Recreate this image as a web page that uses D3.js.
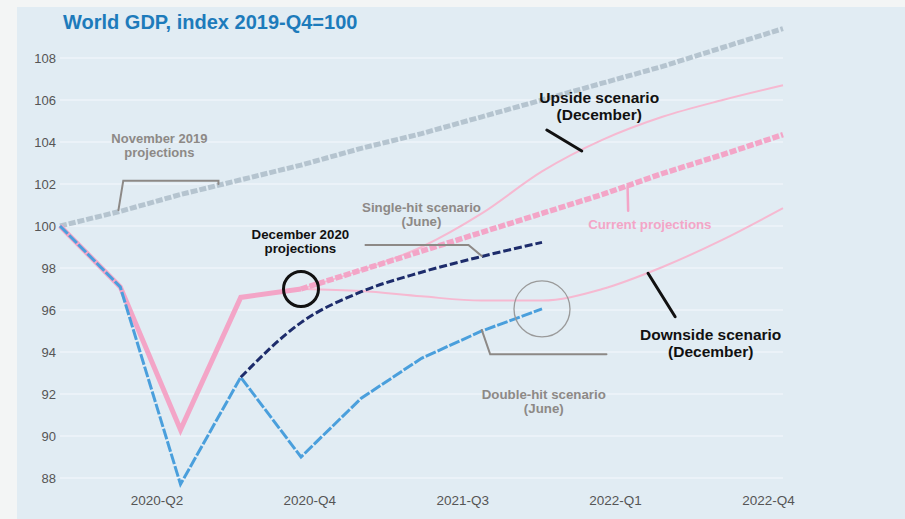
<!DOCTYPE html>
<html>
<head>
<meta charset="utf-8">
<script src="https://cdn.jsdelivr.net/npm/d3@7"></script>
<style>
  html, body { margin: 0; padding: 0; background: #f3f5f5; }
  svg { display: block; }
  text { font-family: "Liberation Sans", Arial, sans-serif; }
</style>
</head>
<body>
<svg id="chart" width="905" height="519"></svg>
<script>
// Quarters from 2019-Q4 (index 0) to 2022-Q4 (index 12)
const quarters = ["2019-Q4","2020-Q1","2020-Q2","2020-Q3","2020-Q4",
                  "2021-Q1","2021-Q2","2021-Q3","2021-Q4",
                  "2022-Q1","2022-Q2","2022-Q3","2022-Q4"];

// World GDP index, 2019-Q4 = 100
const november2019   = [100, 100.7, 101.5, 102.2, 102.9, 103.7, 104.4, 105.2, 106.0, 106.8, 107.6, 108.5, 109.4];
const currentActual  = [100, 97.1, 90.3, 96.6, 97.0];
const currentProj    = [null, null, null, null, 97.0, 97.9, 98.8, 99.7, 100.6, 101.5, 102.5, 103.4, 104.35];
const upsideDec      = [null, null, null, null, 97.0, 97.9, 99.0, 100.6, 102.6, 104.1, 105.2, 106.0, 106.7];
const downsideDec    = [null, null, null, null, 97.0, 96.9, 96.65, 96.45, 96.45, 97.0, 98.05, 99.35, 100.85];
const singleHitJune  = [null, null, null, 92.8, 95.4, 96.87, 97.8, 98.55, 99.22];
const doubleHitJune  = [100, 97.1, 87.7, 92.8, 89.0, 91.8, 93.7, 95.0, 96.05];

const yTicks = [88, 90, 92, 94, 96, 98, 100, 102, 104, 106, 108];
const xTickLabels = ["2020-Q2", "2020-Q4", "2021-Q3", "2022-Q1", "2022-Q4"];

const svg = d3.select("#chart");
const W = 905, H = 519;

// panel
svg.append("rect").attr("x", 17).attr("y", 7).attr("width", W - 17).attr("height", H - 7)
  .attr("fill", "#e1ecf3");

const x = d3.scaleLinear().domain([0, quarters.length - 1]).range([60, 783]);
const y = d3.scaleLinear().domain([88, 108]).range([478, 58]);

// title
svg.append("text").attr("x", 63).attr("y", 29)
  .attr("font-size", 20).attr("font-weight", "bold").attr("fill", "#1d7bbb")
  .text("World GDP, index 2019-Q4=100");

// gridlines
svg.append("g").selectAll("line").data(yTicks).join("line")
  .attr("x1", x(0)).attr("x2", x(12))
  .attr("y1", d => y(d)).attr("y2", d => y(d))
  .attr("stroke", "#ebf2f8").attr("stroke-width", 2);

// y axis labels
const yAxis = d3.axisLeft(y).tickValues(yTicks).tickSize(0).tickPadding(0).tickFormat(d3.format("d"));
svg.append("g").attr("transform", "translate(56,0)").call(yAxis)
  .call(g => g.select(".domain").remove())
  .call(g => g.selectAll("text").attr("font-size", 13).attr("fill", "#555")
    .attr("font-family", "'Liberation Sans', Arial, sans-serif"));

// x axis labels
const xLab = d3.scalePoint().domain(xTickLabels).range([x(1.6), x(11.75)]);
const xAxis = d3.axisBottom(xLab).tickSize(0).tickPadding(0);
svg.append("g").attr("transform", "translate(0,495)").call(xAxis)
  .call(g => g.select(".domain").remove())
  .call(g => g.selectAll("text").attr("font-size", 13.5).attr("fill", "#555")
    .attr("font-family", "'Liberation Sans', Arial, sans-serif"));

const straight = d3.line().defined(d => d != null).x((d, i) => x(i)).y(d => y(d));
const smooth = d3.line().defined(d => d != null).x((d, i) => x(i)).y(d => y(d)).curve(d3.curveMonotoneX);

function drawLine(data, gen, color, width, dash) {
  svg.append("path").datum(data)
    .attr("d", gen)
    .attr("fill", "none")
    .attr("stroke", color)
    .attr("stroke-width", width)
    .attr("stroke-dasharray", dash || null)
    .attr("stroke-linejoin", "miter");
}

// series
drawLine(november2019, straight, "#b5c4cf", 5, "7,2");
drawLine(upsideDec, smooth, "#f6b9d1", 2);
drawLine(downsideDec, smooth, "#f6b9d1", 2);
drawLine(currentProj, straight, "#f3a5c7", 5.5, "7,2");
drawLine(currentActual, straight, "#f3a5c7", 5);
drawLine(singleHitJune, smooth, "#1d2c6b", 3, "8,3");
drawLine(doubleHitJune, straight, "#4a9fdc", 3, "11,2");

// annotations
const P = (i, v) => [x(i), y(v)];
const grey = "#8d8986";

function leader(points, color, width) {
  svg.append("path")
    .attr("d", d3.line()(points.map(p => P(p[0], p[1]))))
    .attr("fill", "none").attr("stroke", color).attr("stroke-width", width)
    .attr("stroke-linecap", "round");
}

function label(i, v, lines, color, size, lineGap) {
  const t = svg.append("text")
    .attr("x", x(i)).attr("y", y(v))
    .attr("text-anchor", "middle")
    .attr("font-size", size).attr("font-weight", "bold").attr("fill", color);
  lines.forEach((s, k) => {
    t.append("tspan").attr("x", x(i)).attr("dy", k === 0 ? 0 : lineGap).text(s);
  });
}

// November 2019 projections
leader([[0.97, 100.76], [1.05, 102.16], [2.63, 102.16], [2.63, 102.0]], grey, 2);
label(1.65, 103.93, ["November 2019", "projections"], grey, 13, 13.5);

// Upside scenario
leader([[8.08, 104.57], [8.66, 103.57]], "#111", 3);
label(8.95, 105.86, ["Upside scenario", "(December)"], "#111", 15.5, 17);

// Current projections
leader([[9.42, 101.9], [9.43, 100.73]], "#f3a5c7", 2.5);
label(9.79, 99.88, ["Current projections"], "#f3a5c7", 13.3, 0);

// Single-hit scenario
leader([[5.07, 99.1], [6.78, 99.1], [7.0, 98.57]], grey, 2);
label(6.0, 100.66, ["Single-hit scenario", "(June)"], grey, 13.3, 14);

// December 2020 projections
label(3.99, 99.36, ["December 2020", "projections"], "#111", 13.3, 14);
svg.append("circle").attr("cx", x(4)).attr("cy", y(currentActual[4]))
  .attr("r", 17.5).attr("fill", "none").attr("stroke", "#111").attr("stroke-width", 3);

// Double-hit scenario
svg.append("circle").attr("cx", x(8)).attr("cy", y(doubleHitJune[8]))
  .attr("r", 28).attr("fill", "none").attr("stroke", "#9a9a9a").attr("stroke-width", 1.3);
leader([[7.0, 95.05], [7.14, 93.89], [9.07, 93.89]], grey, 2);
label(8.03, 91.78, ["Double-hit scenario", "(June)"], grey, 13.3, 14);

// Downside scenario
leader([[9.76, 97.75], [10.21, 95.68]], "#111", 3);
label(10.8, 94.55, ["Downside scenario", "(December)"], "#111", 15.5, 17);
</script>
</body>
</html>
